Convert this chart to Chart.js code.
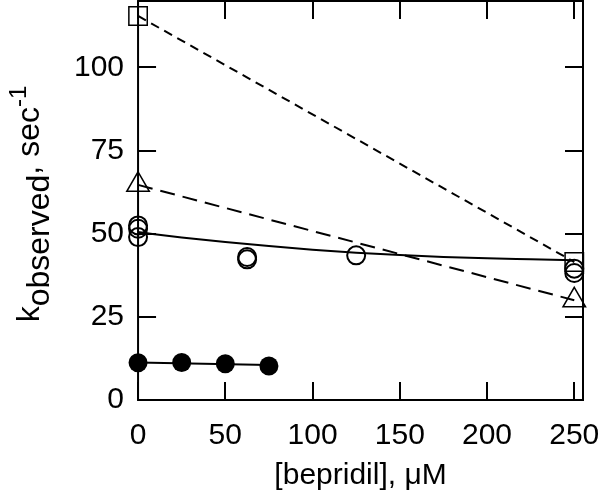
<!DOCTYPE html>
<html>
<head>
<meta charset="utf-8">
<script src="https://cdn.jsdelivr.net/npm/chart.js@4.4.0/dist/chart.umd.min.js"></script>
<style>
  html, body { margin: 0; padding: 0; background: #fff; }
</style>
</head>
<body>
<canvas id="myChart" width="600" height="504"></canvas>
<script>
const xTicks = [0, 50, 100, 150, 200, 250];
const yTicks = [0, 25, 50, 75, 100];

// open squares, short dashes
const squareX = [0, 250];
const squareY = [115.5, 41.5];
// open triangles, long dashes
const triangleX = [0, 250];
const triangleY = [64.7, 30];
// open circles and their solid curve
const circleX = [0, 0, 0, 62.5, 62.5, 125, 250, 250];
const circleY = [52.5, 51.5, 49, 43, 42.3, 43.5, 39.5, 38.2];
const curveX = [0, 25, 50, 75, 100, 125, 150, 175, 200, 225, 250];
const curveY = [50.5, 48.9, 47.5, 46.3, 45.2, 44.3, 43.6, 43.0, 42.6, 42.3, 42.0];
// filled circles and their line
const dotX = [0, 25, 50, 75];
const dotY = [11.2, 11.3, 10.9, 10.2];
const dotLineX = [0, 75];
const dotLineY = [11.3, 10.55];

const pts = (xs, ys) => xs.map((x, i) => ({x: x, y: ys[i]}));
const font = {family: 'Liberation Sans, Arial, sans-serif', size: 30};

// box, inward ticks and the y title with sub/superscript
const frame = {
    id: 'frame',
    beforeDatasetsDraw(chart) {
        const {ctx, chartArea: a, scales: {x, y}} = chart;
        ctx.save();
        ctx.strokeStyle = '#000';
        ctx.lineWidth = 2;
        ctx.strokeRect(a.left, a.top, a.right - a.left, a.bottom - a.top);
        ctx.beginPath();
        xTicks.forEach(v => {
            const px = Math.round(x.getPixelForValue(v));
            ctx.moveTo(px, a.bottom); ctx.lineTo(px, a.bottom - 18);
            ctx.moveTo(px, a.top); ctx.lineTo(px, a.top + 18);
        });
        yTicks.forEach(v => {
            const py = Math.round(y.getPixelForValue(v));
            ctx.moveTo(a.left, py); ctx.lineTo(a.left + 18, py);
            ctx.moveTo(a.right, py); ctx.lineTo(a.right - 18, py);
        });
        ctx.stroke();

        const parts = [['k', 32, 0], ['observed', 32, 10], [', sec', 32, 0], ['-1', 24, -13]];
        ctx.translate(39, 204);
        ctx.rotate(-Math.PI / 2);
        ctx.fillStyle = '#000';
        ctx.textBaseline = 'alphabetic';
        let total = 0;
        parts.forEach(p => { ctx.font = p[1] + 'px ' + font.family; total += ctx.measureText(p[0]).width; });
        let cx = -total / 2;
        parts.forEach(p => {
            ctx.font = p[1] + 'px ' + font.family;
            ctx.fillText(p[0], cx, p[2]);
            cx += ctx.measureText(p[0]).width;
        });
        ctx.restore();
    }
};

const ctx = document.getElementById('myChart').getContext('2d');

const config = {
    type: 'scatter',
    data: {
        datasets: [{
            data: pts(squareX, squareY),
            showLine: true,
            clip: false,
            borderColor: '#000',
            borderWidth: 2,
            borderDash: [9, 6],
            pointStyle: 'rect',
            pointRadius: 13,
            pointBorderWidth: 1.5,
            pointBorderColor: '#000',
            pointBackgroundColor: 'rgba(0,0,0,0)'
        }, {
            data: pts(triangleX, triangleY),
            showLine: true,
            clip: false,
            borderColor: '#000',
            borderWidth: 2,
            borderDash: [15, 8],
            pointStyle: 'triangle',
            pointRadius: 13,
            pointBorderWidth: 1.5,
            pointBorderColor: '#000',
            pointBackgroundColor: 'rgba(0,0,0,0)'
        }, {
            data: pts(curveX, curveY),
            showLine: true,
            clip: false,
            borderColor: '#000',
            borderWidth: 2,
            tension: 0.4,
            cubicInterpolationMode: 'monotone',
            pointRadius: 0
        }, {
            data: pts(circleX, circleY),
            showLine: false,
            clip: false,
            pointStyle: 'circle',
            pointRadius: 9,
            pointBorderWidth: 2,
            pointBorderColor: '#000',
            pointBackgroundColor: 'rgba(0,0,0,0)'
        }, {
            data: pts(dotLineX, dotLineY),
            showLine: true,
            clip: false,
            borderColor: '#000',
            borderWidth: 2,
            pointRadius: 0
        }, {
            data: pts(dotX, dotY),
            showLine: false,
            clip: false,
            pointStyle: 'circle',
            pointRadius: 9.5,
            pointBorderWidth: 0,
            pointBackgroundColor: '#000'
        }]
    },
    options: {
        responsive: false,
        animation: false,
        layout: {autoPadding: false, padding: {left: 60, right: 17, top: 1, bottom: 0}},
        plugins: {legend: {display: false}, tooltip: {enabled: false}},
        scales: {
            x: {
                type: 'linear',
                min: 0,
                max: 255,
                afterBuildTicks: s => { s.ticks = xTicks.map(v => ({value: v})); },
                afterFit: s => { s.paddingLeft = 0; s.paddingRight = 0; },
                grid: {display: false, drawTicks: false},
                border: {display: false},
                ticks: {font: font, color: '#000', padding: 18, maxRotation: 0},
                title: {display: true, text: '[bepridil], μM', font: font, color: '#000', padding: {top: -14, bottom: 10}}
            },
            y: {
                type: 'linear',
                min: 0,
                max: 120,
                afterBuildTicks: s => { s.ticks = yTicks.map(v => ({value: v})); },
                afterFit: s => { s.paddingTop = 0; s.paddingBottom = 0; },
                grid: {display: false, drawTicks: false},
                border: {display: false},
                ticks: {font: font, color: '#000', padding: 14}
            }
        }
    },
    plugins: [frame]
};

const myChart = new Chart(ctx, config);
</script>
</body>
</html>
